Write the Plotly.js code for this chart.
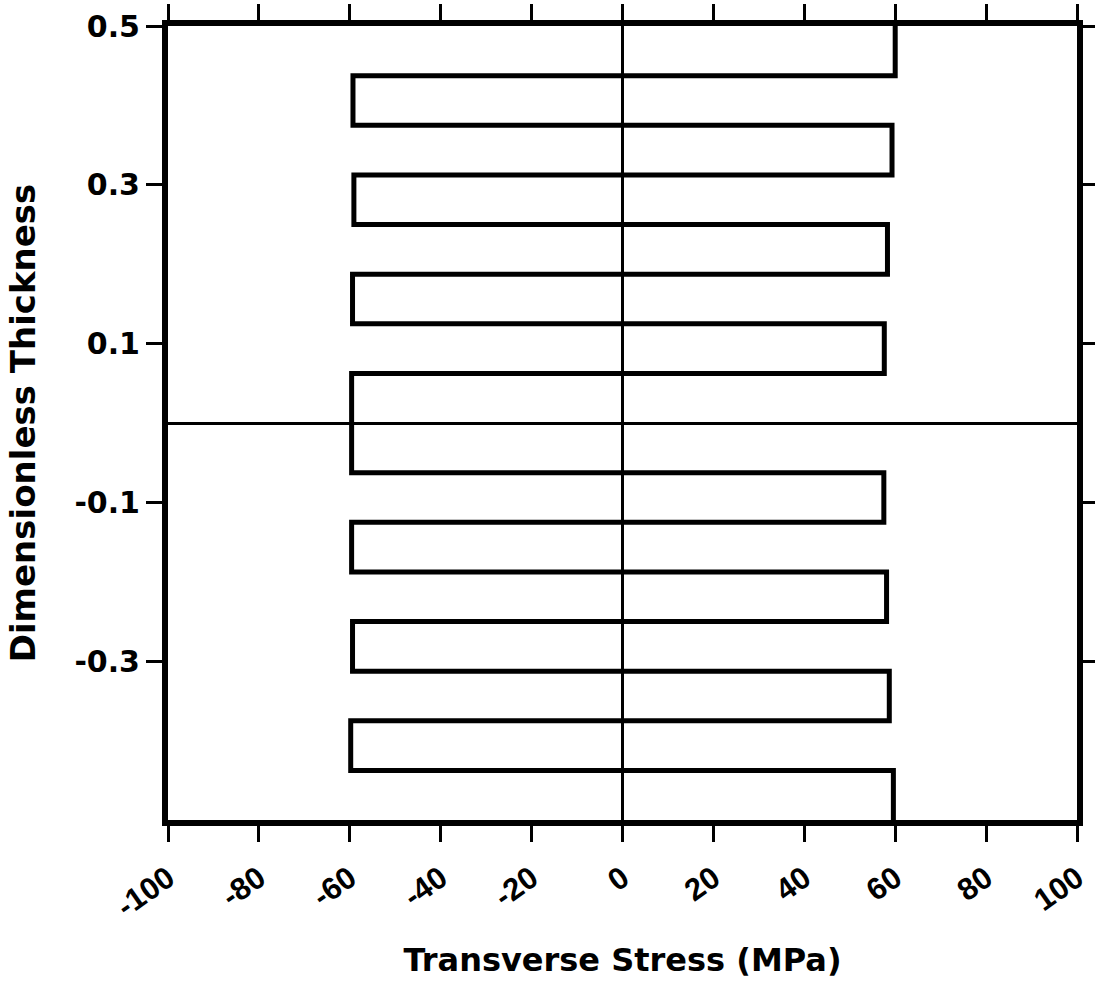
<!DOCTYPE html>
<html>
<head>
<meta charset="utf-8">
<script src="https://cdn.plot.ly/plotly-3.0.1.min.js"></script>
<style>
  html, body { margin: 0; padding: 0; background: #ffffff; }
  #chart { width: 1095px; height: 988px; }
</style>
</head>
<body>
<div id="chart"></div>
<script>
// Ply boundaries (dimensionless thickness), top and bottom of each of 16 plies
const plyTop    = [0.5, 0.4375, 0.375, 0.3125, 0.25, 0.1875, 0.125, 0.0625, 0, -0.0625, -0.125, -0.1875, -0.25, -0.3125, -0.375, -0.4375];
const plyBottom = [0.4375, 0.375, 0.3125, 0.25, 0.1875, 0.125, 0.0625, 0, -0.0625, -0.125, -0.1875, -0.25, -0.3125, -0.375, -0.4375, -0.5];
// Transverse stress in each ply (MPa)
const plyStress = [60, -59.3, 59.3, -59.1, 58.3, -59.4, 57.6, -59.6, -59.6, 57.5, -59.6, 58.1, -59.4, 58.7, -59.8, 59.6];

const xTicks = [-100, -80, -60, -40, -20, 0, 20, 40, 60, 80, 100];
const yTicks = [0.5, 0.3, 0.1, -0.1, -0.3];
const yTickText = ['0.5', '0.3', '0.1', '-0.1', '-0.3'];

const xs = [], ys = [];
for (let i = 0; i < plyStress.length; i++) {
  xs.push(plyStress[i], plyStress[i]);
  ys.push(plyTop[i], plyBottom[i]);
}

const trace = {
  x: xs, y: ys, type: 'scatter', mode: 'lines',
  line: { color: '#000000', width: 5, shape: 'linear' },
  hoverinfo: 'skip', showlegend: false
};

const layout = {
  width: 1095, height: 988,
  paper_bgcolor: '#ffffff', plot_bgcolor: '#ffffff',
  margin: { l: 168, r: 18, t: 26, b: 168 },
  showlegend: false,
  xaxis: {
    range: [-100, 100],
    tickvals: xTicks,
    ticktext: xTicks.map(String),
    tickangle: -35,
    ticklabelstandoff: 6,
    ticks: 'outside', ticklen: 16, tickwidth: 3, tickcolor: '#000',
    showline: true, linewidth: 6, linecolor: '#000', mirror: 'ticks',
    showgrid: false,
    zeroline: true, zerolinecolor: '#000', zerolinewidth: 3,
    tickfont: { family: 'Liberation Sans, Arial, sans-serif', size: 31, color: '#000', weight: 'bold' },
    title: { text: 'Transverse Stress (MPa)', standoff: 28,
             font: { family: 'DejaVu Sans, sans-serif', size: 32, color: '#000', weight: 'bold' } },
    fixedrange: true
  },
  yaxis: {
    range: [-0.5, 0.5],
    tickvals: yTicks,
    ticktext: yTickText,
    ticks: 'outside', ticklen: 16, tickwidth: 3, tickcolor: '#000',
    showline: true, linewidth: 6, linecolor: '#000', mirror: 'ticks',
    showgrid: false,
    zeroline: true, zerolinecolor: '#000', zerolinewidth: 3,
    tickfont: { family: 'DejaVu Sans, sans-serif', size: 30, color: '#000', weight: 'bold' },
    title: { text: 'Dimensionless Thickness', standoff: 30,
             font: { family: 'DejaVu Sans, sans-serif', size: 34, color: '#000', weight: 'bold' } },
    fixedrange: true
  }
};

Plotly.newPlot('chart', [trace], layout, { displayModeBar: false, staticPlot: true });
</script>
</body>
</html>
